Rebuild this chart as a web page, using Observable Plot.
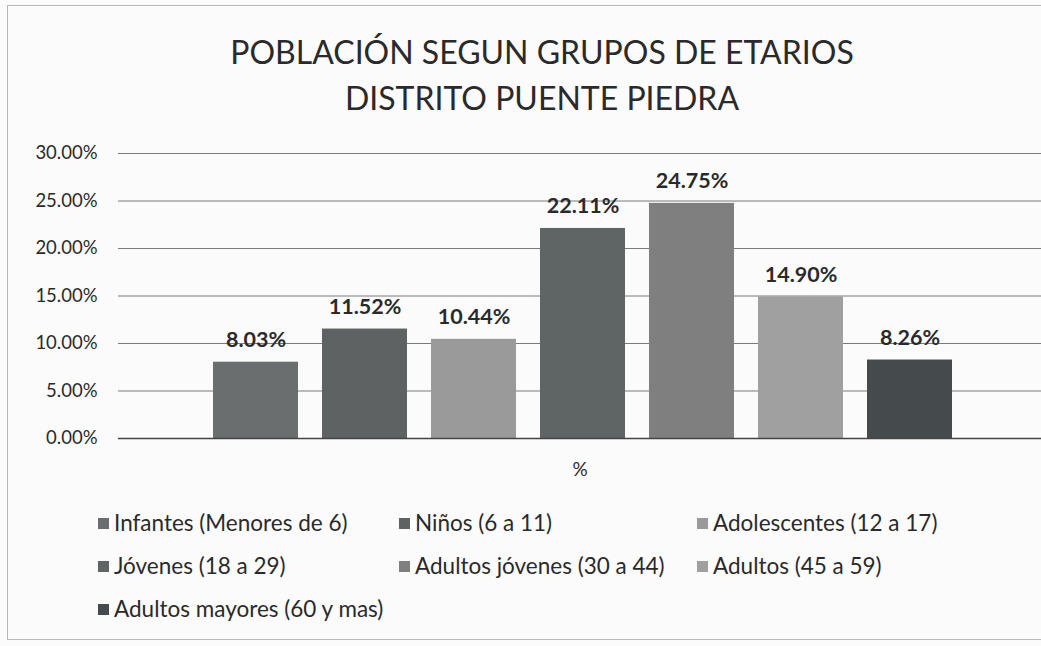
<!DOCTYPE html>
<html><head><meta charset="utf-8">
<script src="https://cdn.jsdelivr.net/npm/d3@7"></script>
<script src="https://cdn.jsdelivr.net/npm/@observablehq/plot@0.6"></script>
<style>
body{margin:0;background:#fbfbfb;font-family:Lato,"Open Sans",sans-serif;color:#2a2a2a;}
#wrap{position:relative;width:1041px;height:646px;overflow:hidden;}
#frame{position:absolute;left:7px;top:5px;width:1040px;height:635px;border:1px solid #b8b8b8;box-sizing:border-box;}
.title{position:absolute;left:0;width:1084px;text-align:center;font-size:32px;color:#2a2a2a;line-height:1;}
#chart{position:absolute;left:0;top:130px;}
#legend{position:absolute;left:0;top:0;}
.li{position:absolute;font-size:22.5px;color:#2a2a2a;white-space:nowrap;line-height:1;}
.sw{display:inline-block;width:11px;height:11px;margin-right:5px;vertical-align:2px;}
</style></head>
<body><div id="wrap"><div id="frame"></div>
<div class="title" style="top:36px">POBLACIÓN SEGUN GRUPOS DE ETARIOS</div>
<div class="title" style="top:82px">DISTRITO PUENTE PIEDRA</div>
<div id="chart"></div><div id="legend"></div></div>
<script>
const groups = ["Infantes (Menores de 6)","Niños (6 a 11)","Adolescentes (12 a 17)","Jóvenes (18 a 29)","Adultos jóvenes (30 a 44)","Adultos (45 a 59)","Adultos mayores (60 y mas)"];
const values = [8.03, 11.52, 10.44, 22.11, 24.75, 14.90, 8.26];
const colors = ["#6b6e6e","#5e6262","#9a9a9a","#5f6464","#7f7f7f","#a0a0a0","#454b4c"];
const yTicks = [0,5,10,15,20,25,30];
const categoryLabel = "%";

const data = groups.map((g,i)=>({group:g, value:values[i]}));

const plot = Plot.plot({
  width:1041, height:360,
  marginLeft:118, marginRight:0, marginTop:23, marginBottom:52,
  style:{background:"transparent", fontFamily:"Lato, 'Open Sans', sans-serif", color:"#2a2a2a"},
  x:{domain:groups, range:[201,964], paddingInner:0.22, paddingOuter:0.11, axis:null},
  y:{domain:[0,30], ticks:yTicks, tickFormat:d=>d.toFixed(2)+"%", label:null},
  color:{domain:groups, range:colors},
  marks:[
    Plot.ruleY(yTicks, {stroke:"#7a7a7a", strokeWidth:1}),
    Plot.axisY({ticks:yTicks, tickFormat:d=>d.toFixed(2)+"%", tickSize:0, tickPadding:21, fontSize:18.5, label:null, fill:"#2a2a2a"}),
    Plot.barY(data, {x:"group", y:"value", fill:"group"}),
    Plot.ruleY([0], {stroke:"#444", strokeWidth:1.3}),
    Plot.text(data, {x:"group", y:"value", text:d=>d.value.toFixed(2)+"%", dy:-22, fontSize:21.5, fontWeight:"bold", fill:"#2a2a2a"}),
    Plot.text([categoryLabel], {frameAnchor:"bottom", dy:37, fontSize:19, fill:"#2a2a2a"})
  ]
});
document.getElementById("chart").appendChild(plot);

const pos = [[98,512],[399,512],[697,512],[98,555],[399,555],[697,555],[98,598]];
const lg = document.getElementById("legend");
groups.forEach((g,i)=>{
  const d=document.createElement("div");
  d.className="li"; d.style.left=pos[i][0]+"px"; d.style.top=pos[i][1]+"px";
  d.innerHTML=`<span class="sw" style="background:${colors[i]}"></span>${g}`;
  lg.appendChild(d);
});
</script></body></html>
